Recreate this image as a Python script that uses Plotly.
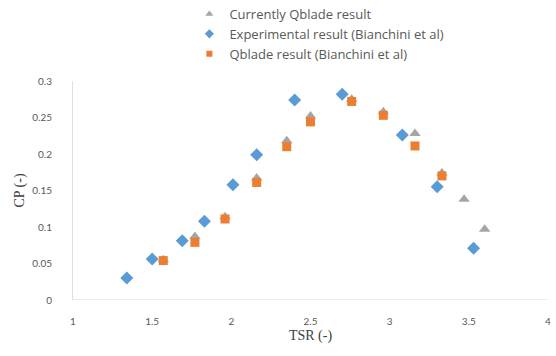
import plotly.graph_objects as go

# Tip speed ratio vs power coefficient
tsr_current = [1.57, 1.77, 1.96, 2.16, 2.35, 2.50, 2.76, 2.96, 3.16, 3.33, 3.47, 3.60]
cp_current = [0.055, 0.087, 0.114, 0.167, 0.218, 0.252, 0.275, 0.258, 0.228, 0.174, 0.138, 0.097]

tsr_exp = [1.34, 1.50, 1.69, 1.83, 2.01, 2.16, 2.40, 2.70, 3.08, 3.30, 3.53]
cp_exp = [0.030, 0.056, 0.081, 0.108, 0.158, 0.199, 0.274, 0.282, 0.226, 0.155, 0.071]

tsr_qblade = [1.57, 1.77, 1.96, 2.16, 2.35, 2.50, 2.76, 2.96, 3.16, 3.33]
cp_qblade = [0.054, 0.079, 0.111, 0.161, 0.210, 0.244, 0.272, 0.253, 0.211, 0.170]

x_ticks = [1, 1.5, 2, 2.5, 3, 3.5, 4]
y_ticks = [0, 0.05, 0.1, 0.15, 0.2, 0.25, 0.3]

GRAY = "#595959"
SERIF = "Liberation Serif, Times New Roman, serif"

series = [
    ("Currently Qblade result", tsr_current, cp_current, "triangle-up", 10, 7, "#A5A5A5"),
    ("Experimental result (Bianchini et al)", tsr_exp, cp_exp, "diamond", 10, 7, "#5B9BD5"),
    ("Qblade result (Bianchini et al)", tsr_qblade, cp_qblade, "square", 9, 6, "#ED7D31"),
]

fig = go.Figure()
for name, xs, ys, sym, size, _, color in series:
    fig.add_trace(go.Scatter(
        x=xs, y=ys, mode="markers", name=name, showlegend=False,
        marker=dict(symbol=sym, size=size, color=color)))
# legend entries with the smaller key markers
for name, _, _, sym, _, key_size, color in series:
    fig.add_trace(go.Scatter(
        x=[None], y=[None], mode="markers", name=name, showlegend=True,
        marker=dict(symbol=sym, size=key_size, color=color)))

fig.update_layout(
    width=556, height=356,
    margin=dict(l=73, r=8, t=81, b=56, autoexpand=False),
    paper_bgcolor="white", plot_bgcolor="white",
    font=dict(family="Lato, Open Sans, sans-serif", size=10, color=GRAY),
    showlegend=True,
    legend=dict(
        x=0.245, y=1.2146, xanchor="left", yanchor="middle",
        bgcolor="rgba(0,0,0,0)",
        font=dict(family="Open Sans, sans-serif", size=13, color=GRAY),
        itemwidth=30, tracegroupgap=0,
    ),
    xaxis=dict(
        range=[1, 4], tickvals=x_ticks, ticktext=[str(v) for v in x_ticks],
        showgrid=False, zeroline=False, showline=False,
        ticks="", ticklabelstandoff=14,
        title=dict(text="TSR (-)", standoff=4,
                   font=dict(family=SERIF, size=14, color="#404040")),
    ),
    yaxis=dict(
        range=[0, 0.3], tickvals=y_ticks,
        ticktext=["0", "0.05", "0.1", "0.15", "0.2", "0.25", "0.3"],
        showgrid=False, zeroline=False, showline=True, linecolor="#E0E0E0", linewidth=1,
        ticks="", ticklabelstandoff=18,
        title=dict(text="CP (-)", standoff=4,
                   font=dict(family=SERIF, size=14, color="#404040")),
    ),
)

# baseline along CP = 0
fig.add_shape(type="line", xref="paper", yref="y", x0=0, x1=1, y0=0, y1=0,
              line=dict(color="#D9D9D9", width=1), layer="below")

fig.write_html("out.html")
